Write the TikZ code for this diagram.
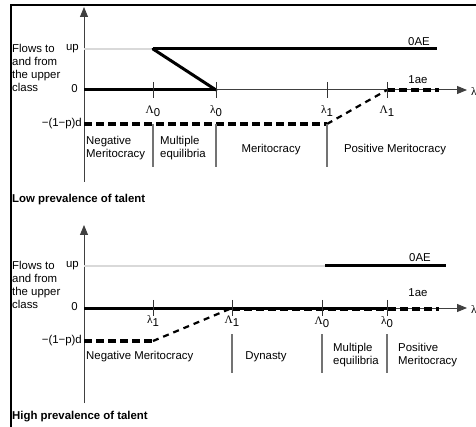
\documentclass[tikz,border=0pt]{standalone}
\usepackage{fontspec}
\setmainfont{Liberation Sans}
\newfontfamily\grk{Liberation Serif}
\usetikzlibrary{arrows.meta,calc}
\newcommand{\Lsym}[2]{{\grk #1}\raisebox{-0.45ex}{#2}}
\tikzset{
  axisline/.style={draw=black!75, line width=1pt},
  axisarrow/.style={axisline, -{Triangle[length=10pt,width=8pt]}},
  thickline/.style={draw=black, line width=3pt},
  dashline/.style={draw=black, line width=3.3pt, dash pattern=on 7.5pt off 4.5pt},
  slopedash/.style={draw=black, line width=2.2pt, dash pattern=on 6pt off 5pt},
  sepline/.style={draw=black!55, line width=1.2pt},
  tickline/.style={draw=black!80, line width=1pt},
  uplight/.style={draw=black!15, line width=1.2pt},
  lbl/.style={font=\fontsize{11.4}{13}\selectfont, inner sep=0pt},
  ttl/.style={font=\fontsize{11.4}{13}\selectfont\bfseries, inner sep=0pt, anchor=west},
  blk/.style={lbl, align=left, anchor=north west},
  ylbl/.style={lbl, anchor=east},
  tlbl/.style={lbl},
}
\begin{document}
\begin{tikzpicture}[x=1pt,y=-1pt]
\useasboundingbox (0,0) rectangle (476,427);
% frame
\draw[line width=1.6pt] (476,5) -- (11,5) -- (11,427);

%%%%%%%%%%%%%% TOP PANEL %%%%%%%%%%%%%%
\coordinate (tO) at (84,90);
\coordinate (tTop) at (84,7);
\coordinate (tBot) at (84,182);
\coordinate (tEnd) at (467,90);
\coordinate (tUp0) at (84,49);
\coordinate (tUpA) at (153,49);
\coordinate (tUpB) at (437,49);
\coordinate (tL0) at (153,90);
\coordinate (tl0) at (216,90);
\coordinate (tl1) at (327,90);
\coordinate (tL1) at (387,90);
\coordinate (tDashEnd) at (439,90);
\coordinate (tD0) at (84,124);
\coordinate (tD1) at (327,124);

\draw[axisline] (tBot) -- (tO);
\draw[axisarrow] (tO) -- (tTop);
\draw[axisarrow] (tO) -- (tEnd);
\draw[uplight] (tUp0) -- (tUpA);
\draw[thickline] (tUpA) -- (tUpB);
\draw[thickline] (tO) -- (tl0);
\draw[thickline,line cap=round] (tUpA) -- (tl0);
\draw[dashline] (tD0) -- (tD1);
\draw[slopedash] (tD1) -- (tL1);
\draw[dashline] (tL1) -- (tDashEnd);
\foreach \c in {tL0,tl0,tl1,tL1}{\draw[tickline] ($(\c)+(0,-8)$) -- ($(\c)+(0,8)$);}
% separators
\draw[sepline] (153,124) -- (153,167);
\draw[sepline] (216,124) -- (216,167);
\draw[sepline] (327,124) -- (327,167);

\node[tlbl] (tLab1) at (153,111) {\Lsym{Λ}{0}};
\node[tlbl] (tLab2) at (216,111) {\Lsym{λ}{0}};
\node[tlbl] (tLab3) at (327,111) {\Lsym{λ}{1}};
\node[tlbl] (tLab4) at (387,111) {\Lsym{Λ}{1}};
\node[lbl] (t0AE) at (419,42) {0AE};
\node[lbl] (t1ae) at (418,80) {1ae};
\node[lbl,anchor=west] (tlam) at (471,91) {\grk λ};

\node[blk] (tflows) at (12,44) {Flows to\\and from\\the upper\\class};
\node[ylbl] (tup) at (79,49) {up};
\node[ylbl] (tzero) at (78,89) {0};
\node[ylbl] (tneg) at (82,124) {−(1−p)d};

\node[blk] (tnm) at (86,136) {Negative\\Meritocracy};
\node[blk] (tme) at (160,136) {Multiple\\equilibria};
\node[lbl] (tmer) at (271,150) {Meritocracy};
\node[lbl] (tpm) at (395,150) {Positive Meritocracy};
\node[ttl] (ttitle) at (12,200) {Low prevalence of talent};

%%%%%%%%%%%%%% BOTTOM PANEL %%%%%%%%%%%%%%
\coordinate (bO) at (84,308);
\coordinate (bTop) at (84,225);
\coordinate (bBot) at (84,403);
\coordinate (bEnd) at (467,308);
\coordinate (bUp0) at (84,266);
\coordinate (bUpA) at (325,266);
\coordinate (bUpB) at (446,266);
\coordinate (bl1) at (153,308);
\coordinate (bL1) at (232,308);
\coordinate (bL0) at (322,308);
\coordinate (bl0) at (387,308);
\coordinate (bDashEnd) at (439,308);
\coordinate (bD0) at (84,341);
\coordinate (bD1) at (153,341);

\draw[axisline] (bBot) -- (bO);
\draw[axisarrow] (bO) -- (bTop);
\draw[axisarrow] (bO) -- (bEnd);
\draw[uplight] (bUp0) -- (bUpA);
\draw[thickline] (bUpA) -- (bUpB);
\draw[thickline] (bO) -- (bl0);
\draw[dashline] ([yshift=-1pt]bL1) -- ([yshift=-1pt]bDashEnd);
\draw[dashline] (bD0) -- (bD1);
\draw[slopedash] (bD1) -- (bL1);
\foreach \c in {bl1,bL1,bL0,bl0}{\draw[tickline] ($(\c)+(0,-8)$) -- ($(\c)+(0,8)$);}
\draw[sepline] (232,334) -- (232,373);
\draw[sepline] (322,334) -- (322,373);
\draw[sepline] (387,334) -- (387,373);

\node[tlbl] (bLab1) at (153,321) {\Lsym{λ}{1}};
\node[tlbl] (bLab2) at (232,321) {\Lsym{Λ}{1}};
\node[tlbl] (bLab3) at (322,322) {\Lsym{Λ}{0}};
\node[tlbl] (bLab4) at (387,322) {\Lsym{λ}{0}};
\node[lbl] (b0AE) at (420,258) {0AE};
\node[lbl] (b1ae) at (418,293) {1ae};
\node[lbl,anchor=west] (blam) at (471,309) {\grk λ};

\node[blk] (bflows) at (12,261) {Flows to\\and from\\the upper\\class};
\node[ylbl] (bup) at (79,266) {up};
\node[ylbl] (bzero) at (78,307) {0};
\node[ylbl] (bneg) at (82,341) {−(1−p)d};

\node[lbl,anchor=west] (bnm) at (86,357) {Negative Meritocracy};
\node[lbl] (bdyn) at (266,357) {Dynasty};
\node[blk] (bme) at (333,343) {Multiple\\equilibria};
\node[blk] (bpm) at (398,343) {Positive\\Meritocracy};
\node[ttl] (btitle) at (12,417) {High prevalence of talent};
\end{tikzpicture}
\end{document}
